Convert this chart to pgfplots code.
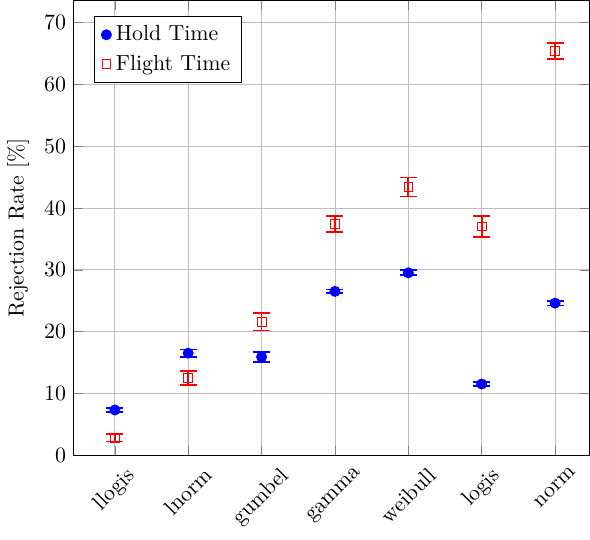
\documentclass[border=0pt]{standalone}
\usepackage{pgfplots}
\pgfplotsset{compat=1.18}
\begin{document}
\begin{tikzpicture}
\begin{axis}[
  scale only axis,
  width=236pt, height=208pt,
  xmin=-0.56, xmax=6.47,
  ymin=0, ymax=73.6,
  xtick={0,1,2,3,4,5,6},
  xticklabels={llogis,lnorm,gumbel,gamma,weibull,logis,norm},
  x tick label style={rotate=45},
  ytick={0,10,20,30,40,50,60,70},
  ylabel={Rejection Rate [\%]},
  grid=major,
  legend style={at={(0.04,0.965)}, anchor=north west, row sep=1pt},
  legend cell align=left,
]
\addplot[only marks, mark=*, color=blue, mark options={blue, mark size=2.3pt}, error bars/.cd, y dir=both, y explicit, error bar style={blue, line width=0.8pt}, error mark options={blue, rotate=90, mark size=3.9pt, line width=0.8pt}]
coordinates {
(0,7.3) +- (0,0.3)
(1,16.5) +- (0,0.6)
(2,15.9) +- (0,0.8)
(3,26.5) +- (0,0.3)
(4,29.5) +- (0,0.4)
(5,11.5) +- (0,0.3)
(6,24.6) +- (0,0.4)
};
\addlegendentry{Hold Time}
\addplot[only marks, mark=square, color=red, mark options={draw=red, mark size=2pt}, error bars/.cd, y dir=both, y explicit, error bar style={red, line width=0.8pt}, error mark options={red, rotate=90, mark size=3.9pt, line width=0.8pt}]
coordinates {
(0,2.8) +- (0,0.6)
(1,12.5) +- (0,1.1)
(2,21.6) +- (0,1.45)
(3,37.4) +- (0,1.3)
(4,43.4) +- (0,1.55)
(5,37.0) +- (0,1.7)
(6,65.4) +- (0,1.3)
};
\addlegendentry{Flight Time}
\end{axis}
\end{tikzpicture}
\end{document}
